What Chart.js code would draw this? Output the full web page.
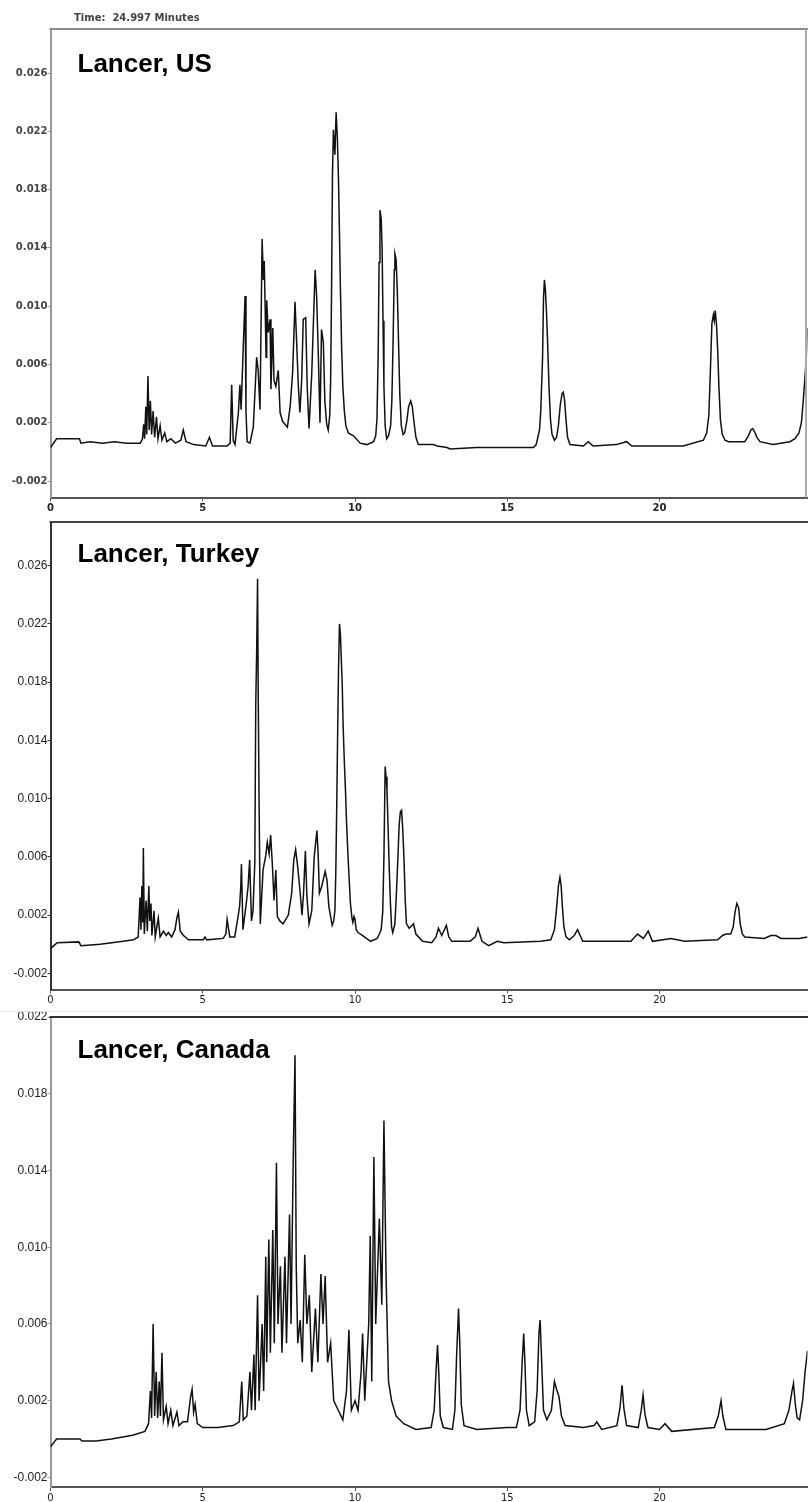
<!DOCTYPE html>
<html>
<head>
<meta charset="utf-8">
<script src="https://cdn.jsdelivr.net/npm/chart.js@4.4.1/dist/chart.umd.min.js"></script>
<style>
    html, body { margin: 0; padding: 0; background: #fff; }
    body { width: 808px; height: 1502px; position: relative; overflow: hidden; }
    .panel { position: absolute; left: 0; width: 808px; }
</style>
</head>
<body>
<div class="panel" style="top:0;height:512px"><canvas id="chartUS" width="808" height="512"></canvas></div>
<div class="panel" style="top:512px;height:493px"><canvas id="chartTR" width="808" height="493"></canvas></div>
<div class="panel" style="top:1005px;height:497px"><canvas id="chartCA" width="808" height="497"></canvas></div>

<script>
// [minutes, absorbance]
const usTrace = [
    [0, 0.0003], [0.2, 0.0009], [0.95, 0.0009], [1.0, 0.0006], [1.3, 0.0007], [1.7, 0.0006], [2.1, 0.0007], [2.5, 0.0006], [2.95, 0.0006],
    [3.02, 0.0009], [3.06, 0.0019], [3.09, 0.0009], [3.13, 0.0031], [3.16, 0.0012], [3.2, 0.0052], [3.24, 0.0015], [3.28, 0.0035], [3.32, 0.0012],
    [3.37, 0.0028], [3.42, 0.0010], [3.48, 0.0024], [3.53, 0.0009], [3.6, 0.0018], [3.66, 0.0008], [3.75, 0.0013], [3.82, 0.0007], [3.95, 0.0009],
    [4.1, 0.0006], [4.28, 0.0008], [4.36, 0.0015], [4.45, 0.0007], [4.7, 0.0005], [5.1, 0.0004], [5.22, 0.0010], [5.32, 0.0004], [5.8, 0.0004], [5.9, 0.0006],
    [5.95, 0.0046], [6.0, 0.0008], [6.06, 0.0005], [6.17, 0.0027], [6.22, 0.0046], [6.26, 0.0029], [6.33, 0.0072], [6.39, 0.0107], [6.42, 0.0027],
    [6.46, 0.0007], [6.55, 0.0006], [6.66, 0.0017], [6.77, 0.0065], [6.82, 0.0056], [6.88, 0.0029], [6.95, 0.0146], [6.99, 0.0118], [7.02, 0.0131],
    [7.08, 0.0065], [7.1, 0.0104], [7.15, 0.0082], [7.21, 0.0091], [7.24, 0.0043], [7.3, 0.0085], [7.34, 0.0049], [7.4, 0.0045], [7.48, 0.0056],
    [7.54, 0.0027], [7.62, 0.0021], [7.7, 0.0019], [7.78, 0.0017], [7.87, 0.0031], [7.95, 0.0054], [8.03, 0.0103], [8.08, 0.0077], [8.14, 0.0045], [8.19, 0.0027],
    [8.25, 0.0050], [8.3, 0.0091], [8.38, 0.0092], [8.43, 0.0045], [8.49, 0.0016], [8.58, 0.0054], [8.69, 0.0125], [8.74, 0.0107], [8.8, 0.0063],
    [8.85, 0.0020], [8.9, 0.0084], [8.96, 0.0075], [9.01, 0.0035], [9.07, 0.0019], [9.12, 0.0015], [9.17, 0.0025], [9.2, 0.0049], [9.23, 0.0111],
    [9.26, 0.0190], [9.29, 0.0221], [9.34, 0.0204], [9.38, 0.0233], [9.42, 0.0216], [9.46, 0.0185], [9.49, 0.0150], [9.52, 0.0113], [9.56, 0.0072],
    [9.6, 0.0045], [9.65, 0.0028], [9.7, 0.0018], [9.78, 0.0013], [9.95, 0.0011], [10.17, 0.0006], [10.39, 0.0005], [10.61, 0.0007],
    [10.68, 0.0011], [10.72, 0.0022], [10.76, 0.0065], [10.79, 0.0130], [10.82, 0.0166], [10.86, 0.0160], [10.89, 0.0140], [10.92, 0.0090],
    [10.95, 0.0045], [10.99, 0.0018], [11.04, 0.0009], [11.1, 0.0011], [11.17, 0.0018], [11.21, 0.0035], [11.25, 0.0075], [11.29, 0.0125],
    [11.31, 0.0136], [11.35, 0.0132], [11.39, 0.0110], [11.43, 0.0075], [11.47, 0.0040], [11.52, 0.0018], [11.58, 0.0012], [11.63, 0.0013],
    [11.7, 0.0021], [11.76, 0.0031], [11.83, 0.0035], [11.88, 0.0031], [11.94, 0.0020], [12.0, 0.0010], [12.08, 0.0005], [12.58, 0.0005],
    [12.7, 0.0004], [13.02, 0.0003], [13.12, 0.0002], [14.0, 0.0003], [14.87, 0.0003], [15.86, 0.0003], [15.95, 0.0005], [16.06, 0.0015],
    [16.1, 0.0028], [16.16, 0.0065], [16.19, 0.0105], [16.22, 0.0118], [16.25, 0.0112], [16.29, 0.0095], [16.33, 0.0072], [16.37, 0.0045],
    [16.42, 0.0022], [16.47, 0.0012], [16.55, 0.0008], [16.62, 0.0010], [16.68, 0.0018], [16.74, 0.0032], [16.8, 0.0040], [16.84, 0.0041],
    [16.88, 0.0036], [16.93, 0.0022], [16.98, 0.0010], [17.06, 0.0005], [17.5, 0.0004], [17.66, 0.0007], [17.82, 0.0004], [18.58, 0.0005],
    [18.92, 0.0007], [19.09, 0.0004], [19.69, 0.0004], [20.78, 0.0004], [21.44, 0.0008], [21.55, 0.0013], [21.62, 0.0025], [21.67, 0.0055],
    [21.72, 0.0088], [21.77, 0.0094], [21.8, 0.0090], [21.83, 0.0097], [21.87, 0.0088], [21.91, 0.0070], [21.95, 0.0045], [22.0, 0.0022],
    [22.06, 0.0012], [22.15, 0.0008], [22.27, 0.0007], [22.8, 0.0007], [22.92, 0.0011], [23.0, 0.0015], [23.06, 0.0016], [23.12, 0.0014],
    [23.2, 0.0010], [23.3, 0.0007], [23.73, 0.0005], [24.28, 0.0007], [24.45, 0.0009], [24.58, 0.0013], [24.66, 0.0020], [24.72, 0.0035],
    [24.78, 0.0052], [24.83, 0.0068], [24.86, 0.0085]
];

const turkeyTrace = [
    [0, -0.0003], [0.11, -0.0001], [0.22, 0.0001], [0.93, 0.00016], [1.0, -0.0001], [1.63, 0.0], [2.39, 0.0002], [2.72, 0.0003], [2.88, 0.0005],
    [2.94, 0.0032], [2.97, 0.0010], [3.0, 0.0040], [3.03, 0.0015], [3.05, 0.0066], [3.08, 0.0007], [3.14, 0.0030], [3.18, 0.0009], [3.23, 0.0040],
    [3.26, 0.0016], [3.3, 0.0028], [3.33, 0.0006], [3.4, 0.0023], [3.44, 0.0005], [3.54, 0.0018], [3.6, 0.0005], [3.71, 0.0009], [3.8, 0.0006],
    [3.87, 0.0008], [3.98, 0.0005], [4.09, 0.0010], [4.15, 0.0018], [4.2, 0.0022], [4.26, 0.0009], [4.37, 0.0006], [4.53, 0.0003], [5.02, 0.0003],
    [5.07, 0.0005], [5.13, 0.0003], [5.67, 0.0004], [5.76, 0.0007], [5.8, 0.0017], [5.89, 0.0005], [6.05, 0.0005], [6.16, 0.0019], [6.21, 0.0026],
    [6.25, 0.0040], [6.27, 0.0055], [6.32, 0.0010], [6.43, 0.0028], [6.49, 0.0040], [6.54, 0.0058], [6.6, 0.0016], [6.65, 0.0023], [6.71, 0.0056],
    [6.74, 0.0164], [6.77, 0.0200], [6.8, 0.0251], [6.82, 0.0177], [6.85, 0.0097], [6.89, 0.0014], [6.98, 0.0051], [7.07, 0.0061], [7.12, 0.0070],
    [7.18, 0.0062], [7.23, 0.0075], [7.29, 0.0053], [7.34, 0.0030], [7.4, 0.0051], [7.45, 0.0019], [7.53, 0.0016], [7.64, 0.0014], [7.81, 0.0020],
    [7.92, 0.0035], [7.99, 0.0058], [8.05, 0.0065], [8.12, 0.0053], [8.2, 0.0035], [8.26, 0.0020], [8.31, 0.0035], [8.37, 0.0064], [8.42, 0.0033],
    [8.49, 0.0014], [8.58, 0.0023], [8.66, 0.0060], [8.75, 0.0078], [8.79, 0.0062], [8.83, 0.0035], [8.91, 0.0040], [9.02, 0.0050], [9.08, 0.0044],
    [9.14, 0.0026], [9.25, 0.0013], [9.3, 0.0016], [9.34, 0.0023], [9.37, 0.0050], [9.4, 0.0095], [9.43, 0.0145], [9.46, 0.0190], [9.49, 0.0220],
    [9.52, 0.0213], [9.55, 0.0196], [9.58, 0.0179], [9.61, 0.0150], [9.65, 0.0125], [9.69, 0.0104], [9.72, 0.0085], [9.76, 0.0065], [9.8, 0.0048],
    [9.85, 0.0028], [9.9, 0.0018], [9.93, 0.0015], [9.97, 0.0019], [10.0, 0.0017], [10.04, 0.0010], [10.1, 0.0008], [10.24, 0.0006],
    [10.51, 0.0002], [10.73, 0.0004], [10.8, 0.0007], [10.86, 0.0010], [10.91, 0.0022], [10.95, 0.0060], [10.99, 0.0122], [11.02, 0.0115],
    [11.05, 0.0106], [11.08, 0.0085], [11.12, 0.0055], [11.16, 0.0030], [11.2, 0.0012], [11.24, 0.0008], [11.31, 0.0014], [11.36, 0.0035],
    [11.41, 0.0060], [11.45, 0.0082], [11.49, 0.0091], [11.53, 0.0092], [11.57, 0.0078], [11.61, 0.0058], [11.65, 0.0030], [11.69, 0.0014],
    [11.78, 0.0011], [11.92, 0.0014], [12.0, 0.0007], [12.22, 0.0002], [12.52, 0.0001], [12.66, 0.0005], [12.74, 0.0011], [12.85, 0.0006],
    [13.0, 0.0013], [13.08, 0.0005], [13.18, 0.0002], [13.78, 0.0002], [13.95, 0.0005], [14.04, 0.0011], [14.17, 0.0002], [14.39, -0.0001],
    [14.67, 0.0002], [14.89, 0.0001], [16.1, 0.0002], [16.43, 0.0003], [16.55, 0.0010], [16.62, 0.0025], [16.68, 0.0040], [16.73, 0.0046],
    [16.77, 0.0040], [16.81, 0.0026], [16.86, 0.0012], [16.93, 0.0005], [17.04, 0.0003], [17.2, 0.0006], [17.31, 0.0010], [17.48, 0.0002],
    [19.06, 0.0002], [19.28, 0.0007], [19.47, 0.0004], [19.63, 0.0009], [19.77, 0.0002], [20.38, 0.0004], [20.82, 0.0002], [21.91, 0.0003],
    [22.07, 0.0006], [22.18, 0.0007], [22.34, 0.0007], [22.42, 0.0012], [22.48, 0.0022], [22.54, 0.0028], [22.6, 0.0025], [22.65, 0.0014],
    [22.72, 0.0007], [22.8, 0.0005], [23.44, 0.0004], [23.66, 0.0006], [23.82, 0.0006], [23.99, 0.0004], [24.59, 0.0004], [24.86, 0.0005]
];

const canadaTrace = [
    [0, -0.0004], [0.2, 0.0], [0.97, 0.0], [1.03, -0.0001], [1.5, -0.0001], [2.0, 0.0], [2.7, 0.0002], [3.1, 0.0004], [3.22, 0.0008],
    [3.28, 0.0025], [3.32, 0.0011], [3.37, 0.0060], [3.42, 0.0012], [3.47, 0.0035], [3.52, 0.0011], [3.57, 0.0030], [3.61, 0.0012], [3.66, 0.0045],
    [3.71, 0.0010], [3.8, 0.0017], [3.86, 0.0008], [3.95, 0.0015], [4.02, 0.0007], [4.15, 0.0014], [4.22, 0.0007], [4.35, 0.0009], [4.5, 0.0009],
    [4.6, 0.0022], [4.65, 0.0026], [4.7, 0.0014], [4.75, 0.0018], [4.82, 0.0008], [5.0, 0.0006], [5.5, 0.0006], [6.0, 0.0007], [6.2, 0.0009],
    [6.28, 0.0030], [6.33, 0.0010], [6.45, 0.0012], [6.55, 0.0035], [6.6, 0.0015], [6.68, 0.0044], [6.72, 0.0015], [6.8, 0.0075], [6.85, 0.0020],
    [6.95, 0.0060], [7.0, 0.0025], [7.07, 0.0095], [7.1, 0.0040], [7.17, 0.0104], [7.22, 0.0045], [7.3, 0.0109], [7.35, 0.0050], [7.42, 0.0144],
    [7.47, 0.0060], [7.55, 0.0090], [7.6, 0.0045], [7.7, 0.0095], [7.75, 0.0050], [7.85, 0.0117], [7.9, 0.0060], [7.97, 0.0145], [8.03, 0.0200],
    [8.07, 0.0090], [8.12, 0.0050], [8.2, 0.0062], [8.27, 0.0040], [8.35, 0.0096], [8.42, 0.0060], [8.5, 0.0075], [8.58, 0.0035], [8.7, 0.0068],
    [8.78, 0.0040], [8.88, 0.0086], [8.95, 0.0060], [9.02, 0.0085], [9.1, 0.0040], [9.2, 0.0050], [9.3, 0.0020], [9.45, 0.0015], [9.6, 0.0010],
    [9.72, 0.0025], [9.8, 0.0057], [9.88, 0.0015], [10.0, 0.0020], [10.1, 0.0015], [10.2, 0.0035], [10.25, 0.0055], [10.32, 0.0020], [10.45, 0.0060],
    [10.5, 0.0106], [10.55, 0.0030], [10.62, 0.0147], [10.68, 0.0060], [10.8, 0.0115], [10.88, 0.0070], [10.95, 0.0166], [11.02, 0.0085],
    [11.1, 0.0030], [11.2, 0.0020], [11.35, 0.0012], [11.6, 0.0008], [12.0, 0.0005], [12.5, 0.0006], [12.6, 0.0015], [12.66, 0.0035],
    [12.71, 0.0049], [12.75, 0.0035], [12.8, 0.0012], [12.9, 0.0006], [13.2, 0.0005], [13.28, 0.0015], [13.34, 0.0045], [13.4, 0.0068],
    [13.44, 0.0050], [13.49, 0.0018], [13.58, 0.0007], [14.0, 0.0005], [15.0, 0.0006], [15.3, 0.0006], [15.42, 0.0015], [15.49, 0.0040],
    [15.54, 0.0055], [15.58, 0.0040], [15.63, 0.0015], [15.72, 0.0007], [15.9, 0.0009], [15.98, 0.0025], [16.04, 0.0055], [16.08, 0.0062],
    [16.13, 0.0040], [16.19, 0.0015], [16.3, 0.0010], [16.45, 0.0015], [16.55, 0.0030], [16.62, 0.0026], [16.7, 0.0022], [16.78, 0.0012],
    [16.9, 0.0007], [17.5, 0.0006], [17.85, 0.0007], [17.94, 0.0009], [18.1, 0.0005], [18.6, 0.0007], [18.7, 0.0016], [18.77, 0.0028],
    [18.83, 0.0016], [18.92, 0.0007], [19.3, 0.0006], [19.4, 0.0015], [19.46, 0.0023], [19.52, 0.0013], [19.62, 0.0006], [20.0, 0.0005],
    [20.18, 0.0008], [20.4, 0.0004], [21.8, 0.0006], [21.93, 0.0012], [22.02, 0.0020], [22.08, 0.0012], [22.18, 0.0005], [23.5, 0.0005],
    [24.1, 0.0008], [24.25, 0.0015], [24.35, 0.0025], [24.4, 0.0029], [24.46, 0.0018], [24.52, 0.0011], [24.6, 0.0010], [24.7, 0.0020],
    [24.78, 0.0035], [24.86, 0.0046]
];

const minuteTicks = [0, 5, 10, 15, 20];
const wideTicks = [-0.002, 0.002, 0.006, 0.010, 0.014, 0.018, 0.022, 0.026];
const narrowTicks = [-0.002, 0.002, 0.006, 0.010, 0.014, 0.018, 0.022];
const panelTitles = ['Lancer, US', 'Lancer, Turkey', 'Lancer, Canada'];
const runTime = 'Time:  24.997 Minutes';

const BOLD_TICKS = { family: '"DejaVu Sans", sans-serif', size: 10, weight: 'bold' };
const PLAIN_TICKS = { family: '"Liberation Sans", Arial, sans-serif', size: 12 };

// frame lines, sample name and run time
const panelDecor = {
    id: 'panelDecor',
    afterDraw(chart, args, opts) {
        const { ctx, chartArea: a } = chart;
        ctx.save();
        ctx.lineWidth = 2;
        ctx.strokeStyle = opts.topColor;
        ctx.beginPath();
        ctx.moveTo(a.left - 1, a.top);
        ctx.lineTo(a.right + 1, a.top);
        ctx.stroke();
        if (opts.rightColor) {
            ctx.strokeStyle = opts.rightColor;
            ctx.beginPath();
            ctx.moveTo(a.right - 1.5, a.top);
            ctx.lineTo(a.right - 1.5, a.bottom);
            ctx.stroke();
        }
        if (opts.sepY != null) {
            ctx.strokeStyle = '#e4e4e4';
            ctx.lineWidth = 1;
            ctx.beginPath();
            ctx.moveTo(0, opts.sepY);
            ctx.lineTo(chart.width, opts.sepY);
            ctx.stroke();
        }
        ctx.fillStyle = '#000';
        ctx.font = 'bold 26px "Liberation Sans", Arial, sans-serif';
        ctx.textBaseline = 'alphabetic';
        ctx.fillText(opts.title, a.left + 27, a.top + opts.titleDrop);
        if (opts.header) {
            ctx.fillStyle = '#444';
            ctx.font = 'bold 10px "DejaVu Sans", sans-serif';
            ctx.fillText(opts.header, 74, 21);
        }
        ctx.restore();
    }
};

function drawPanel(canvasId, trace, yMin, yMax, yTicks, look) {
    try {
        const config = {
            type: 'line',
            data: {
                datasets: [{
                    data: trace.map(p => ({ x: p[0], y: p[1] })),
                    borderColor: '#111',
                    borderWidth: 1.5,
                    pointRadius: 0,
                    tension: 0,
                    fill: false
                }]
            },
            options: {
                responsive: false,
                animation: false,
                layout: { padding: { top: look.padTop, right: 0.5, left: 0, bottom: 0 } },
                plugins: {
                    legend: { display: false },
                    tooltip: { enabled: false },
                    panelDecor: look.decor
                },
                scales: {
                    x: {
                        type: 'linear',
                        min: 0,
                        max: 24.86,
                        afterBuildTicks: s => { s.ticks = minuteTicks.map(v => ({ value: v })); },
                        afterFit: s => { s.height = look.xHeight; },
                        ticks: { color: '#222', font: { family: '"DejaVu Sans", sans-serif', size: 10, weight: look.xWeight }, padding: 1, maxRotation: 0 },
                        grid: { drawOnChartArea: false, drawTicks: true, tickLength: 4, color: '#555' },
                        border: { color: '#555', width: 2 }
                    },
                    y: {
                        min: yMin,
                        max: yMax,
                        afterBuildTicks: s => { s.ticks = yTicks.map(v => ({ value: v })); },
                        afterFit: s => { s.width = 50.5; },
                        ticks: { color: look.tickColor, font: look.tickFont, padding: 0, callback: v => v.toFixed(3) },
                        grid: { drawOnChartArea: false, drawTicks: true, tickLength: 3, color: look.leftColor },
                        border: { color: look.leftColor, width: 2 }
                    }
                }
            },
            plugins: [panelDecor]
        };
        const ctx = document.getElementById(canvasId).getContext('2d');
        new Chart(ctx, config);
    } catch (error) {
        console.error(`houve um erro em ${canvasId}: ${error}`);
    }
}

drawPanel('chartUS', usTrace, -0.00313, 0.02902, wideTicks, {
    padTop: 29, xHeight: 14.5, leftColor: '#999', tickFont: BOLD_TICKS, tickColor: '#444', xWeight: 'bold',
    decor: { title: panelTitles[0], titleDrop: 43, topColor: '#8a8a8a', rightColor: '#aaa', header: runTime }
});
drawPanel('chartTR', turkeyTrace, -0.00311, 0.0290, wideTicks, {
    padTop: 10, xHeight: 15.5, leftColor: '#333', tickFont: PLAIN_TICKS, tickColor: '#222', xWeight: 'normal',
    decor: { title: panelTitles[1], titleDrop: 40, topColor: '#444' }
});
drawPanel('chartCA', canadaTrace, -0.0025, 0.022, narrowTicks, {
    padTop: 12, xHeight: 15, leftColor: '#999', tickFont: PLAIN_TICKS, tickColor: '#222', xWeight: 'normal',
    decor: { title: panelTitles[2], titleDrop: 41, topColor: '#333', sepY: 6.5 }
});
</script>
</body>
</html>
